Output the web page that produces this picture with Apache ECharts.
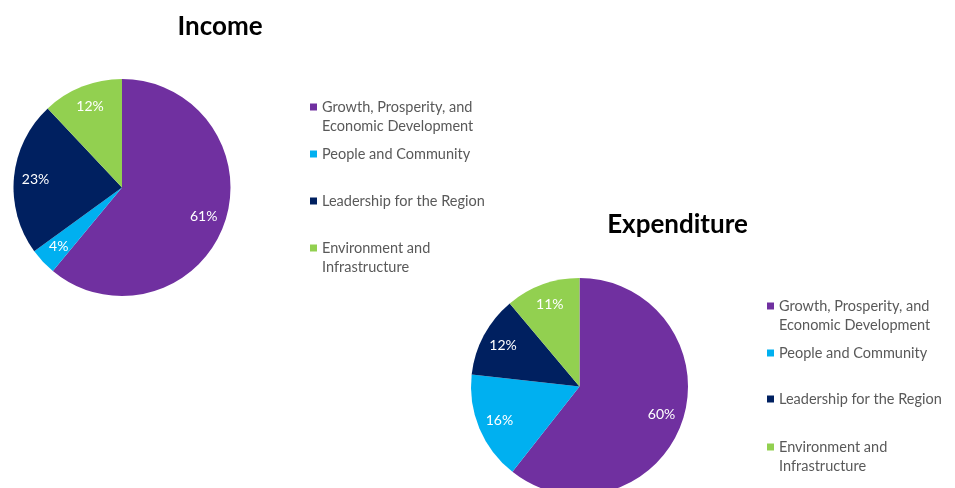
<!DOCTYPE html>
<html>
<head>
<meta charset="utf-8">
<script src="https://cdn.jsdelivr.net/npm/echarts@6/dist/echarts.min.js"></script>
<style>
html,body{margin:0;padding:0;background:#fff;}
#c{width:955px;height:488px;}
</style>
</head>
<body>
<div id="c"></div>
<script>
var categories = ['Growth, Prosperity, and Economic Development', 'People and Community', 'Leadership for the Region', 'Environment and Infrastructure'];
var legendLines = [['Growth, Prosperity, and', 'Economic Development'], ['People and Community'], ['Leadership for the Region'], ['Environment and', 'Infrastructure']];
var incomeValues = [61, 4, 23, 12];
var expenditureValues = [60, 16, 12, 11];
var colors = ['#7030A0', '#00B0F0', '#002060', '#92D050'];
var chartTitles = ['Income', 'Expenditure'];

var FONT = 'Lato, "Liberation Sans", sans-serif';
var pies = [
  {values: incomeValues, center: [122, 187.5], r: 108.5, title: [220, 14], legendLeft: 310, legendTops: [78.5, 144.5, 191.5, 219.5]},
  {values: expenditureValues, center: [579.5, 386.5], r: 108.5, title: [677.5, 212], legendLeft: 767, legendTops: [277.5, 343.5, 389.5, 418.5]}
];

function labelPos(p, idx) {
  var vals = p.values, total = 0, cum = 0;
  for (var i = 0; i < vals.length; i++) total += vals[i];
  for (var j = 0; j < idx; j++) cum += vals[j];
  var th = 2 * Math.PI * (cum + vals[idx] / 2) / total;
  var k = 0.8;
  return {x: p.center[0] + k * p.r * Math.sin(th), y: p.center[1] - k * p.r * Math.cos(th)};
}

var series = [], titles = [], legends = [];
pies.forEach(function (p, si) {
  series.push({
    type: 'pie',
    name: chartTitles[si],
    center: p.center,
    radius: p.r,
    startAngle: 90,
    clockwise: true,
    silent: true,
    data: categories.map(function (c, i) { return {name: c, value: p.values[i]}; }),
    itemStyle: {borderWidth: 0},
    label: {
      show: true, position: 'inside', color: '#ffffff', fontSize: 14, fontFamily: FONT,
      formatter: function (d) { return d.value + '%'; }
    },
    labelLine: {show: false},
    labelLayout: function (params) {
      var pos = labelPos(p, params.dataIndex);
      return {x: pos.x, y: pos.y, align: 'center', verticalAlign: 'middle'};
    }
  });
  titles.push({
    text: chartTitles[si], left: p.title[0], top: p.title[1], textAlign: 'center', padding: 0,
    textStyle: {fontFamily: FONT, fontWeight: 'bold', fontSize: 26, color: '#000000'}
  });
  categories.forEach(function (c, i) {
    var lines = legendLines[i];
    legends.push({
      data: [c], left: p.legendLeft, top: p.legendTops[i], orient: 'vertical', padding: 0,
      icon: 'rect', itemWidth: 7, itemHeight: 7, selectedMode: false,
      formatter: function () { return lines.length > 1 ? '\n' + lines.join('\n') : lines[0]; },
      textStyle: {fontFamily: FONT, fontSize: 14.5, color: '#595959', lineHeight: 19}
    });
  });
});

var chart = echarts.init(document.getElementById('c'), null, {renderer: 'canvas'});
chart.setOption({
  animation: false,
  color: colors,
  backgroundColor: '#ffffff',
  title: titles,
  legend: legends,
  series: series
});
</script>
</body>
</html>
